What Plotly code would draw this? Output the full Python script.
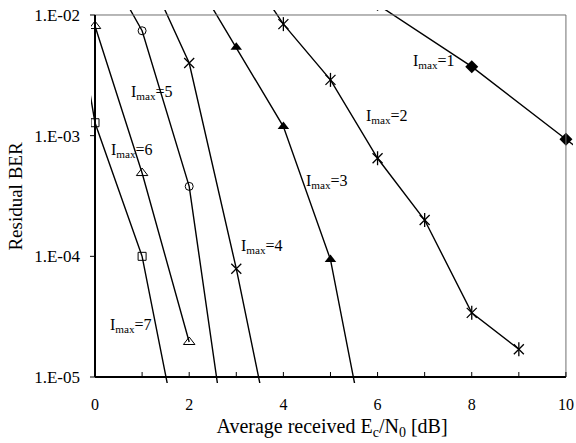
import math
import plotly.graph_objects as go

# ---- data ----
x1 = [6, 8, 10, 12]
ber1 = [1.22e-2, 3.73e-3, 9.35e-4, 2.34e-4]

x2 = [3, 4, 5, 6, 7, 8, 9]
ber2 = [3.2e-2, 8.4e-3, 2.9e-3, 6.5e-4, 2.0e-4, 3.4e-5, 1.7e-5]

x3 = [2, 3, 4, 5, 6]
ber3 = [2.4e-2, 5.4e-3, 1.19e-3, 9.4e-5, 9.3e-7]

x4 = [1, 2, 3, 4]
ber4 = [2.85e-2, 4.0e-3, 7.9e-5, 1.0e-6]

x5 = [0, 1, 2, 3]
ber5 = [3.66e-2, 7.4e-3, 3.8e-4, 7.2e-7]

x6 = [0, 1, 2]
ber6 = [8.1e-3, 4.9e-4, 1.95e-5]

x7 = [-1, 0, 1, 2]
ber7 = [0.25, 1.28e-3, 1.0e-4, 1.07e-6]

label_text = ["I<sub>max</sub>=1", "I<sub>max</sub>=2", "I<sub>max</sub>=3", "I<sub>max</sub>=4",
              "I<sub>max</sub>=5", "I<sub>max</sub>=6", "I<sub>max</sub>=7"]
label_x = [7.20, 6.19, 4.92, 3.54, 1.20, 0.775, 0.754]
label_ber = [4.1e-3, 1.44e-3, 4.17e-4, 1.21e-4, 2.28e-3, 7.6e-4, 2.67e-5]

x_ticks = [0, 2, 4, 6, 8, 10]
x_minor = list(range(0, 11))
y_ticks = [1e-2, 1e-3, 1e-4, 1e-5]
y_ticktext = ["1.E-02", "1.E-03", "1.E-04", "1.E-05"]

# ---- layout constants ----
FONT = "'Liberation Serif', 'Times New Roman', serif"
XR = [-0.085, 10.15]
YR = [-5.0497, -1.9586]
X_MIN, X_MAX = 0, 10
Y_MIN, Y_MAX = 1e-5, 1e-2


def px(x):
    return (x - XR[0]) / (XR[1] - XR[0])


def py(y):
    return (math.log10(y) - YR[0]) / (YR[1] - YR[0])


fig = go.Figure()

series = [
    (x1, ber1, dict(symbol="diamond", size=10, color="black")),
    (x2, ber2, dict(symbol="x-thin-open", size=10, color="black", line=dict(width=1.3, color="black"))),
    (x3, ber3, dict(symbol="triangle-up", size=10, color="black")),
    (x4, ber4, dict(symbol="x-thin-open", size=10, color="black", line=dict(width=1.3, color="black"))),
    (x5, ber5, dict(symbol="circle-open", size=8, color="black", line=dict(width=1, color="black"))),
    (x6, ber6, dict(symbol="triangle-up-open", size=10, color="black", line=dict(width=1, color="black"))),
    (x7, ber7, dict(symbol="square-open", size=8, color="black", line=dict(width=1, color="black"))),
]
for xs, ys, mk in series:
    fig.add_trace(go.Scatter(x=xs, y=ys, mode="lines+markers",
                             line=dict(color="black", width=1.4),
                             marker=mk, showlegend=False, hoverinfo="skip"))

# vertical stroke that turns the Imax=2 crosses into asterisks
fig.add_trace(go.Scatter(x=x2, y=ber2, mode="markers",
                         marker=dict(symbol="line-ns-open", size=10, color="black",
                                     line=dict(width=1.3, color="black")),
                         showlegend=False, hoverinfo="skip"))

for t, lx, lb in zip(label_text, label_x, label_ber):
    fig.add_annotation(x=lx, y=math.log10(lb), xref="x", yref="y", text=t,
                       showarrow=False, font=dict(family=FONT, size=16, color="black"),
                       xanchor="center", yanchor="middle", bgcolor="rgba(0,0,0,0)")

shapes = []
# frame: thin grey top/right, thick black left/bottom
shapes.append(dict(type="line", xref="paper", yref="paper", x0=px(X_MIN), x1=px(X_MAX),
                   y0=py(Y_MAX), y1=py(Y_MAX), line=dict(color="#707070", width=1)))
shapes.append(dict(type="line", xref="paper", yref="paper", x0=px(X_MAX), x1=px(X_MAX),
                   y0=py(Y_MIN), y1=py(Y_MAX), line=dict(color="#707070", width=1)))
shapes.append(dict(type="line", xref="paper", yref="paper", x0=px(X_MIN), x1=px(X_MIN),
                   y0=py(Y_MIN), y1=py(Y_MAX), line=dict(color="black", width=2)))
shapes.append(dict(type="line", xref="paper", yref="paper", x0=px(X_MIN), x1=px(X_MAX),
                   y0=py(Y_MIN), y1=py(Y_MIN), line=dict(color="black", width=2)))
PLOT_H = 373.3
PLOT_W = 481.7
for xv in x_minor:
    shapes.append(dict(type="line", xref="paper", yref="paper", x0=px(xv), x1=px(xv),
                       y0=py(Y_MIN), y1=py(Y_MIN) + 5 / PLOT_H, line=dict(color="black", width=1)))
for yv in y_ticks:
    shapes.append(dict(type="line", xref="paper", yref="paper", x0=px(X_MIN) - 5 / PLOT_W, x1=px(X_MIN),
                       y0=py(yv), y1=py(yv), line=dict(color="black", width=1)))

fig.update_layout(
    width=576, height=443,
    margin=dict(l=91, r=3.3, t=10, b=59.7),
    paper_bgcolor="white", plot_bgcolor="white",
    font=dict(family=FONT, size=16, color="black"),
    shapes=shapes,
    showlegend=False,
)
fig.update_xaxes(range=XR, tickvals=x_ticks, ticktext=[str(v) for v in x_ticks],
                 showgrid=False, zeroline=False, showline=False, ticks="",
                 tickfont=dict(family=FONT, size=16), ticklabelstandoff=10,
                 title=dict(text="Average received E<sub>c</sub>/N<sub>0</sub> [dB]",
                            font=dict(family=FONT, size=20), standoff=6))
fig.update_yaxes(type="log", range=YR, tickvals=y_ticks, ticktext=y_ticktext,
                 showgrid=False, zeroline=False, showline=False, ticks="",
                 tickfont=dict(family=FONT, size=17), ticklabelstandoff=10,
                 title=dict(text="Residual BER", font=dict(family=FONT, size=19), standoff=6))

fig.write_html("out.html")
